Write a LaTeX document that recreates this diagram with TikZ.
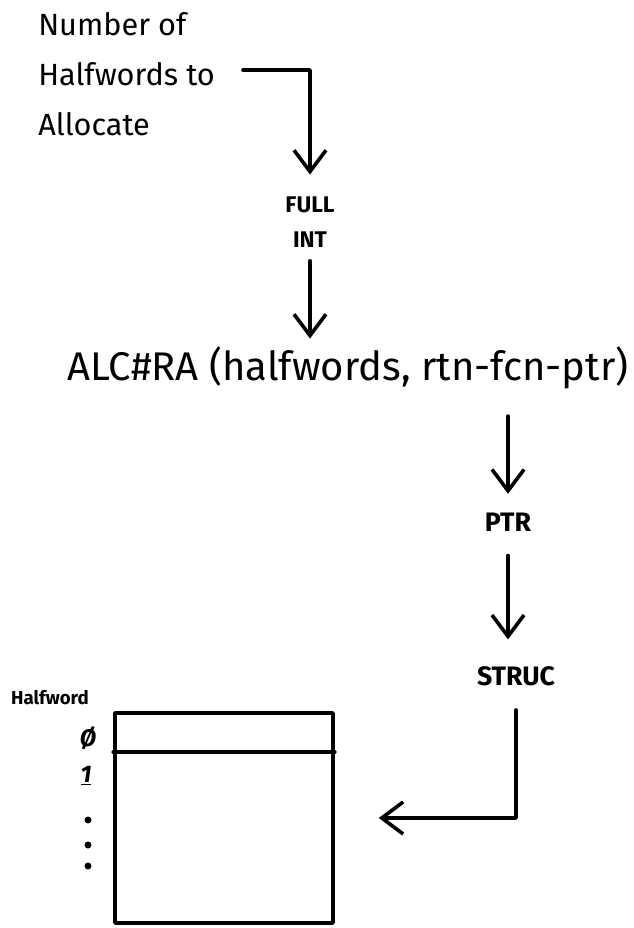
\documentclass[tikz,border=0pt]{standalone}
\usepackage{fontspec}
\setmainfont{Fira Sans}
\usetikzlibrary{arrows.meta,calc}
\begin{document}
\begin{tikzpicture}[x=0.75pt,y=-0.75pt,
  ink/.style={line width=2.7pt,line join=round,line cap=round},
  arr/.style={ink,-{Straight Barb[length=16pt,width=24pt,line width=2.7pt]}},
  lbl/.style={inner sep=0pt,align=center},
  big/.style={font=\fontsize{30}{34}\selectfont},
  mid/.style={font=\bfseries\fontsize{20}{24}\selectfont},
  small/.style={font=\bfseries\fontsize{17}{26}\selectfont}]
\useasboundingbox (0,0) rectangle (634,928);

% input description
\node[lbl,align=left,anchor=north west,font=\fontsize{23}{37.5}\selectfont]
  (num) at (38,12) {Number of\\Halfwords to\\Allocate};
\coordinate (a1) at (243,70);

% argument type
\node[lbl,small] (full) at (310,222) {FULL\\INT};

% the call
\node[lbl,big] (alc) at (348,368) {ALC\#RA (halfwords, rtn-fcn-ptr)};

% return types
\node[lbl,mid] (ptr) at (508,522) {PTR};
\node[lbl,mid] (struc) at (516,676) {STRUC};

% allocated block of halfwords
\node[ink,draw,minimum width=218*0.75pt,minimum height=210*0.75pt,inner sep=0pt]
  (mem) at (224,818) {};
\draw[ink] ($(mem.north west)+(0,41)$) -- ($(mem.north east)+(0,41)$);
\node[lbl,font=\bfseries\fontsize{14}{16}\selectfont] (hw) at (50,698) {Halfword};
\node[lbl,font=\bfseries\itshape\fontsize{18}{20}\selectfont] (i0) at (88,738) {Ø};
\node[lbl,font=\bfseries\itshape\fontsize{18}{20}\selectfont] (i1) at (86,776) {\underline{1}};
\fill (88,820) circle (3.5) (88,845) circle (3.5) (88,866) circle (3.5);

% connectors
\draw[arr] (a1) -| ($(full.north)+(0,-22)$);
\draw[arr,shorten <=10pt,shorten >=6pt] (full.south) -- (full.south |- alc.north);
\draw[arr,shorten <=20pt,shorten >=14pt] (ptr.north |- alc.south) -- (ptr.north);
\draw[arr,shorten <=18pt,shorten >=20pt] (ptr.south) -- (ptr.south |- struc.north);
\coordinate (c1) at (struc.south |- mem.east);
\draw[arr,shorten <=18pt,shorten >=33pt] (struc.south) -- (c1) -- (mem.east);
\end{tikzpicture}
\end{document}
